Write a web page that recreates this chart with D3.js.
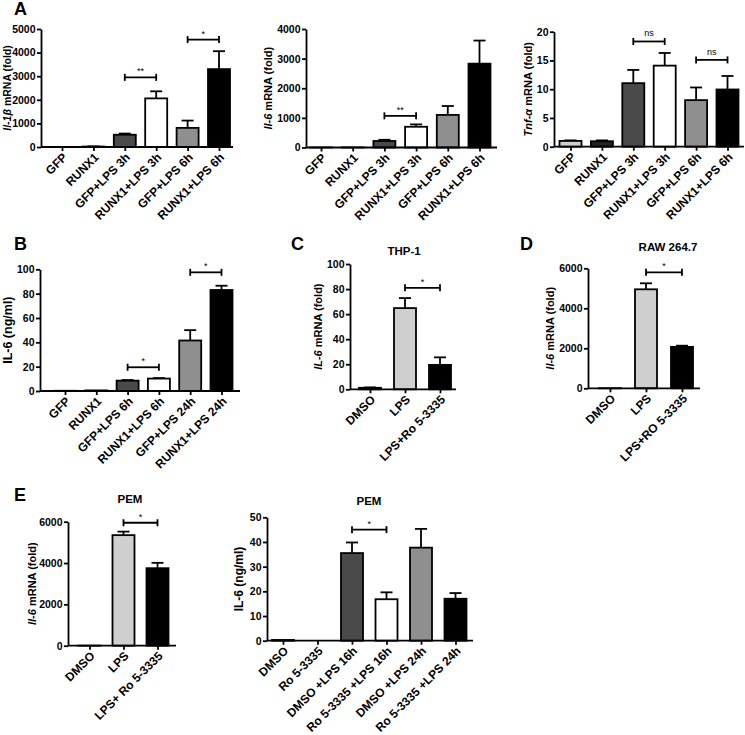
<!DOCTYPE html>
<html><head><meta charset="utf-8">
<script src="https://cdn.jsdelivr.net/npm/d3@7"></script>
<style>
body{margin:0;background:#fff}
text{font-family:"Liberation Sans",Arial,sans-serif;font-weight:bold;fill:#000}
</style>
</head><body>
<svg id="chart" width="745" height="735"></svg>
<script>
// ---------- DATA ----------
const catsA = ["GFP","RUNX1","GFP+LPS 3h","RUNX1+LPS 3h","GFP+LPS 6h","RUNX1+LPS 6h"];
const il1bMean = [3, 20, 520, 2060, 810, 3300];
const il1bSem  = [0, 5, 50, 300, 310, 760];
const il6aMean = [2, 3, 220, 700, 1100, 2830];
const il6aSem  = [0, 0, 40, 80, 300, 780];
const tnfMean  = [1.0, 0.95, 11.05, 14.1, 8.1, 9.95];
const tnfSem   = [0.1, 0.15, 2.3, 2.2, 2.2, 2.35];

const catsB = ["GFP","RUNX1","GFP+LPS 6h","RUNX1+LPS 6h","GFP+LPS 24h","RUNX1+LPS 24h"];
const il6bMean = [0.2, 0.5, 8.5, 10.2, 41.5, 83];
const il6bSem  = [0, 0, 0.5, 0.4, 8.5, 3.5];

const catsC = ["DMSO","LPS","LPS+Ro 5-3335"];
const thpMean = [1.2, 64.8, 19.5];
const thpSem  = [0.3, 8, 6];

const catsD = ["DMSO","LPS","LPS+RO 5-3335"];
const rawMean = [5, 4950, 2070];
const rawSem  = [0, 300, 60];

const catsE1 = ["DMSO","LPS","LPS+ Ro 5-3335"];
const pemMean = [5, 5350, 3750];
const pemSem  = [0, 170, 260];

const catsE2 = ["DMSO","Ro 5-3335","DMSO +LPS 16h","Ro 5-3335 +LPS 16h","DMSO +LPS 24h","Ro 5-3335 +LPS 24h"];
const pemIl6Mean = [0.3, 0, 35.5, 16.8, 37.7, 17];
const pemIl6Sem  = [0, 0, 4.3, 2.8, 7.6, 2.3];

// significance brackets: [fromIndex, toIndex, yValue, label]
const sigA1 = [[2,3,2950,"**"],[4,5,4550,"*"]];
const sigA2 = [[2,3,1070,"**"]];
const sigA3 = [[2,3,18.3,"ns"],[4,5,15.1,"ns"]];
const sigB  = [[2,3,19.5,"*"],[4,5,97.5,"*"]];
const sigC  = [[1,2,81,"*"]];
const sigD  = [[1,2,5800,"*"]];
const sigE1 = [[1,2,5950,"*"]];
const sigE2 = [[2,3,45,"*"]];

// ---------- STYLE / LAYOUT ----------
const LIGHT="#cfcfcf", DARK="#4a4a4a", MID="#8f8f8f", WHITE="#ffffff", BLACK="#000000";
const colsA = [LIGHT, "#222222", DARK, WHITE, MID, BLACK];
const cols6 = [LIGHT, LIGHT, DARK, WHITE, MID, BLACK];
const cols3 = [LIGHT, LIGHT, BLACK];

const panels = [
  {cats:catsA, mean:il1bMean, sem:il1bSem, sig:sigA1, cols:colsA, x0:41, x1:233, c0:62, step:31.4, y0:147, yTop:29, max:5000, tick:1000, ylx:11, yls:10.5,
   ylabel:[["Il-1β",true],[" mRNA (fold)",false]]},
  {cats:catsA, mean:il6aMean, sem:il6aSem, sig:sigA2, cols:colsA, x0:306, x1:497, c0:321, step:31.7, y0:147.5, yTop:29, max:4000, tick:1000, ylx:272, yls:11,
   ylabel:[["Il-6",true],[" mRNA (fold)",false]]},
  {cats:catsA, mean:tnfMean, sem:tnfSem, sig:sigA3, cols:colsA, x0:554, x1:744, c0:570.5, step:31.4, y0:146.7, yTop:31.7, max:20, tick:5, ylx:532, yls:11,
   ylabel:[["Tnf-α",true],[" mRNA (fold)",false]]},
  {cats:catsB, mean:il6bMean, sem:il6bSem, sig:sigB, cols:cols6, x0:40, x1:240, c0:65, step:31.3, y0:391, yTop:269.3, max:100, tick:20, ylx:12, yls:12.5,
   ylabel:[["IL-6 (ng/ml)",false]]},
  {cats:catsC, mean:thpMean, sem:thpSem, sig:sigC, cols:cols3, x0:350, x1:456, c0:370, step:35, y0:389.3, yTop:264, max:100, tick:20, ylx:322, yls:11,
   ylabel:[["IL-6",true],[" mRNA (fold)",false]], title:"THP-1", tx:404, ty:255},
  {cats:catsD, mean:rawMean, sem:rawSem, sig:sigD, cols:cols3, x0:588, x1:700, c0:610, step:36, y0:388.3, yTop:268.3, max:6000, tick:2000, ylx:554, yls:11,
   ylabel:[["Il-6",true],[" mRNA (fold)",false]], title:"RAW 264.7", tx:668, ty:251},
  {cats:catsE1, mean:pemMean, sem:pemSem, sig:sigE1, cols:cols3, x0:68, x1:176, c0:89.5, step:34, y0:645.7, yTop:521.7, max:6000, tick:2000, ylx:36, yls:11,
   ylabel:[["Il-6",true],[" mRNA (fold)",false]], title:"PEM", tx:130, ty:503},
  {cats:catsE2, mean:pemIl6Mean, sem:pemIl6Sem, sig:sigE2, cols:cols6, x0:267, x1:473, c0:283, step:34.5, y0:640.7, yTop:517.3, max:50, tick:10, ylx:243, yls:12,
   ylabel:[["IL-6 (ng/ml)",false]], title:"PEM", tx:369, ty:505}
];

const letters = [["A",14,15],["B",14,250],["C",291,250],["D",520,250],["E",14,501]];

// ---------- DRAW ----------
const svg = d3.select("#chart");
svg.append("rect").attr("width",745).attr("height",735).attr("fill","#fff");

const BW = 22, CAP = 12, SW = 1.8;
const FONT = "'Liberation Sans',Arial,sans-serif";

panels.forEach(p => {
  const g = svg.append("g");
  const y = d3.scaleLinear().domain([0,p.max]).range([p.y0,p.yTop]);
  const x = d3.scalePoint().domain(p.cats).range([p.c0, p.c0 + p.step*(p.cats.length-1)]);

  // error bars (upper only)
  p.cats.forEach((c,i) => {
    if (p.sem[i] <= 0) return;
    const cx = x(c), top = y(p.mean[i] + p.sem[i]);
    g.append("line").attr("x1",cx).attr("x2",cx).attr("y1",y(p.mean[i])).attr("y2",top)
      .attr("stroke","#000").attr("stroke-width",SW);
    g.append("line").attr("x1",cx-CAP/2).attr("x2",cx+CAP/2).attr("y1",top).attr("y2",top)
      .attr("stroke","#000").attr("stroke-width",SW);
  });

  // bars
  g.selectAll("rect.bar").data(p.cats).enter().append("rect")
    .attr("class","bar")
    .attr("x", c => x(c) - BW/2)
    .attr("y", (c,i) => y(p.mean[i]))
    .attr("width", BW)
    .attr("height", (c,i) => Math.max(0, p.y0 - y(p.mean[i])))
    .attr("fill", (c,i) => p.cols[i])
    .attr("stroke","#000").attr("stroke-width",SW);

  // y axis
  const ya = g.append("g").attr("transform",`translate(${p.x0},0)`)
    .call(d3.axisLeft(y).tickValues(d3.range(0, p.max + p.tick/2, p.tick)).tickFormat(d3.format("d"))
      .tickSize(4).tickSizeOuter(0).tickPadding(1.5));
  ya.select(".domain").attr("stroke","#000").attr("stroke-width",SW);
  ya.selectAll(".tick line").attr("stroke","#000").attr("stroke-width",SW);
  ya.selectAll(".tick text").style("font-size","10.5px").style("font-family",FONT).style("font-weight","bold");

  // x axis
  const xa = g.append("g").attr("transform",`translate(0,${p.y0})`)
    .call(d3.axisBottom(x).tickSize(4).tickFormat(""));
  xa.select(".domain").remove();
  xa.selectAll(".tick line").attr("stroke","#000").attr("stroke-width",SW);
  g.append("line").attr("x1",p.x0).attr("x2",p.x1).attr("y1",p.y0).attr("y2",p.y0)
    .attr("stroke","#000").attr("stroke-width",SW);

  // category labels
  p.cats.forEach(c => {
    g.append("text")
      .attr("transform",`translate(${x(c)+6},${p.y0+11}) rotate(-45)`)
      .attr("text-anchor","end")
      .style("font-size","12px")
      .text(c);
  });

  // y label
  const yl = g.append("text")
    .attr("transform",`translate(${p.ylx},${(p.y0+p.yTop)/2}) rotate(-90)`)
    .attr("text-anchor","middle").style("font-size",p.yls+"px");
  p.ylabel.forEach(([t,it]) => {
    yl.append("tspan").style("font-style", it ? "italic" : "normal").text(t);
  });

  // title
  if (p.title) {
    g.append("text").attr("x",p.tx).attr("y",p.ty).attr("text-anchor","middle")
      .style("font-size","11.5px").text(p.title);
  }

  // significance brackets
  p.sig.forEach(([a,b,v,lab]) => {
    const xa1 = x(p.cats[a]), xb1 = x(p.cats[b]), yy = y(v);
    g.append("line").attr("x1",xa1).attr("x2",xb1).attr("y1",yy).attr("y2",yy).attr("stroke","#000").attr("stroke-width",SW);
    g.append("line").attr("x1",xa1).attr("x2",xa1).attr("y1",yy-3.5).attr("y2",yy+3.5).attr("stroke","#000").attr("stroke-width",SW);
    g.append("line").attr("x1",xb1).attr("x2",xb1).attr("y1",yy-3.5).attr("y2",yy+3.5).attr("stroke","#000").attr("stroke-width",SW);
    g.append("text").attr("x",(xa1+xb1)/2).attr("y", yy - (lab==="ns" ? 5 : 3)).attr("text-anchor","middle")
      .style("font-size","9px").style("font-weight","normal").text(lab);
  });
});

letters.forEach(([t,lx,ly]) => {
  svg.append("text").attr("x",lx).attr("y",ly).style("font-size","18px").text(t);
});
</script>
</body></html>
